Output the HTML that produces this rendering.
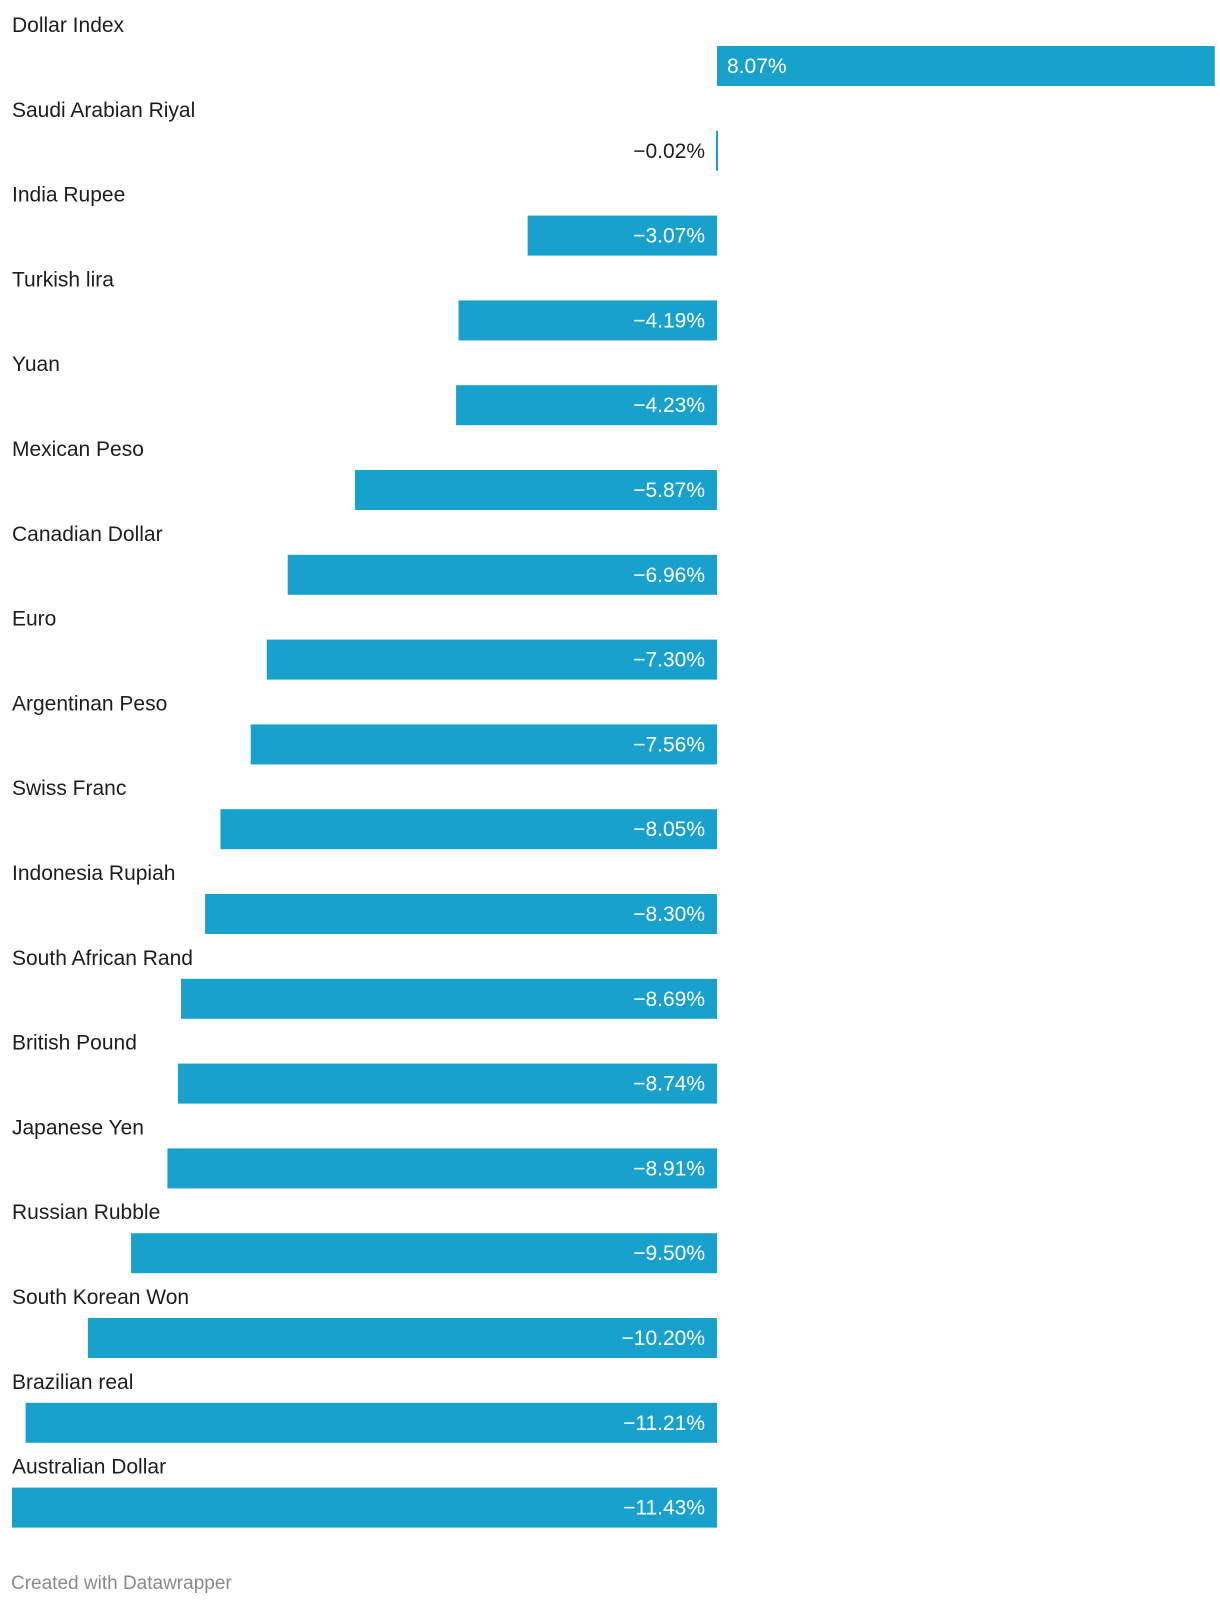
<!DOCTYPE html>
<html><head><meta charset="utf-8"><style>
body{margin:0;background:#fff;width:1220px;height:1606px;overflow:hidden;font-family:"Liberation Sans",Arial,sans-serif}
svg{display:block}
</style></head><body>
<svg id="chart" width="1220" height="1606"></svg>
<script>
const categories=["Dollar Index","Saudi Arabian Riyal","India Rupee","Turkish lira","Yuan","Mexican Peso","Canadian Dollar","Euro","Argentinan Peso","Swiss Franc","Indonesia Rupiah","South African Rand","British Pound","Japanese Yen","Russian Rubble","South Korean Won","Brazilian real","Australian Dollar"];
const values=[8.07,-0.02,-3.07,-4.19,-4.23,-5.87,-6.96,-7.30,-7.56,-8.05,-8.30,-8.69,-8.74,-8.91,-9.50,-10.20,-11.21,-11.43];
const labels=["8.07%","−0.02%","−3.07%","−4.19%","−4.23%","−5.87%","−6.96%","−7.30%","−7.56%","−8.05%","−8.30%","−8.69%","−8.74%","−8.91%","−9.50%","−10.20%","−11.21%","−11.43%"];
const NS="http://www.w3.org/2000/svg";
const svg=document.getElementById('chart');
const zero=717, pxPer=(717-12)/11.43;
const x=v=>zero+v*pxPer;
const rowY=i=>46+i*84.8;
function mk(t,a){const e=document.createElementNS(NS,t);for(const k in a)e.setAttribute(k,a[k]);svg.appendChild(e);return e;}
categories.forEach((c,i)=>{
  const y=rowY(i);
  const t=mk('text',{x:12,y:y-14,'font-size':21,fill:'#1d1d1d'});
  t.textContent=c;
  
  
  const v=values[i];
  let x0=Math.min(x(v),zero), w=Math.abs(x(v)-zero);
  if(w<2){w=2;x0=zero-1;}
  const r=mk('rect',{x:x0,y:y,width:w,height:40,fill:'#18a1cd'});
  
  
  const small=w<90;
  let lx,anchor,fill;
  if(v>=0){lx=zero+10;anchor='start';fill='#fff';}
  else if(small){lx=zero-12;anchor='end';fill='#1d1d1d';}
  else {lx=zero-12;anchor='end';fill='#fff';}
  const l=mk('text',{x:lx,y:y+27,'font-size':21,fill:fill,'text-anchor':anchor});
  l.textContent=labels[i];
  
  
});
const f=mk('text',{x:11,y:1589,'font-size':19,fill:'#8a8a8a'});
f.textContent="Created with Datawrapper";


</script>
</body></html>
